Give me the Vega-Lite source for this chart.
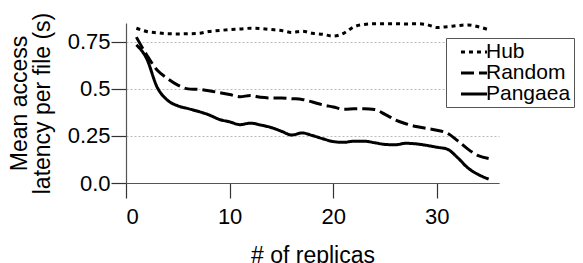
{
  "$schema": "https://vega.github.io/schema/vega-lite/v6.json",
  "autosize": "none",
  "width": 373,
  "height": 160,
  "padding": {"left": 126, "top": 23, "right": 84, "bottom": 80},
  "background": "white",
  "config": {
    "font": "Liberation Sans",
    "view": {"stroke": null},
    "axis": {"labelFont": "Liberation Sans", "titleFont": "Liberation Sans", "labelColor": "black", "titleColor": "black", "titleFontWeight": "normal", "domainColor": "#555", "tickColor": "#333", "tickWidth": 1.2, "domainWidth": 1.2}
  },
  "data": {"values": [
    {"r":1,"s":"Hub","v":0.822},{"r":2,"s":"Hub","v":0.805},{"r":3,"s":"Hub","v":0.798},{"r":4,"s":"Hub","v":0.793},{"r":5,"s":"Hub","v":0.792},
    {"r":6,"s":"Hub","v":0.793},{"r":7,"s":"Hub","v":0.795},{"r":8,"s":"Hub","v":0.805},{"r":9,"s":"Hub","v":0.81},{"r":10,"s":"Hub","v":0.815},
    {"r":11,"s":"Hub","v":0.818},{"r":12,"s":"Hub","v":0.822},{"r":13,"s":"Hub","v":0.82},{"r":14,"s":"Hub","v":0.815},{"r":15,"s":"Hub","v":0.81},
    {"r":16,"s":"Hub","v":0.8},{"r":17,"s":"Hub","v":0.806},{"r":18,"s":"Hub","v":0.795},{"r":19,"s":"Hub","v":0.79},{"r":20,"s":"Hub","v":0.78},
    {"r":21,"s":"Hub","v":0.795},{"r":22,"s":"Hub","v":0.83},{"r":23,"s":"Hub","v":0.842},{"r":24,"s":"Hub","v":0.846},{"r":25,"s":"Hub","v":0.846},
    {"r":26,"s":"Hub","v":0.846},{"r":27,"s":"Hub","v":0.845},{"r":28,"s":"Hub","v":0.846},{"r":29,"s":"Hub","v":0.842},{"r":30,"s":"Hub","v":0.826},
    {"r":31,"s":"Hub","v":0.83},{"r":32,"s":"Hub","v":0.836},{"r":33,"s":"Hub","v":0.84},{"r":34,"s":"Hub","v":0.83},{"r":35,"s":"Hub","v":0.814},
    {"r":1,"s":"Random","v":0.775},{"r":2,"s":"Random","v":0.68},{"r":3,"s":"Random","v":0.6},{"r":4,"s":"Random","v":0.555},{"r":5,"s":"Random","v":0.52},
    {"r":6,"s":"Random","v":0.5},{"r":7,"s":"Random","v":0.497},{"r":8,"s":"Random","v":0.49},{"r":9,"s":"Random","v":0.48},{"r":10,"s":"Random","v":0.47},
    {"r":11,"s":"Random","v":0.458},{"r":12,"s":"Random","v":0.465},{"r":13,"s":"Random","v":0.455},{"r":14,"s":"Random","v":0.452},{"r":15,"s":"Random","v":0.452},
    {"r":16,"s":"Random","v":0.448},{"r":17,"s":"Random","v":0.444},{"r":18,"s":"Random","v":0.43},{"r":19,"s":"Random","v":0.415},{"r":20,"s":"Random","v":0.404},
    {"r":21,"s":"Random","v":0.392},{"r":22,"s":"Random","v":0.394},{"r":23,"s":"Random","v":0.395},{"r":24,"s":"Random","v":0.39},{"r":25,"s":"Random","v":0.365},
    {"r":26,"s":"Random","v":0.335},{"r":27,"s":"Random","v":0.315},{"r":28,"s":"Random","v":0.3},{"r":29,"s":"Random","v":0.29},{"r":30,"s":"Random","v":0.28},
    {"r":31,"s":"Random","v":0.265},{"r":32,"s":"Random","v":0.225},{"r":33,"s":"Random","v":0.18},{"r":34,"s":"Random","v":0.145},{"r":35,"s":"Random","v":0.13},
    {"r":1,"s":"Pangaea","v":0.734},{"r":2,"s":"Pangaea","v":0.66},{"r":3,"s":"Pangaea","v":0.51},{"r":4,"s":"Pangaea","v":0.44},{"r":5,"s":"Pangaea","v":0.41},
    {"r":6,"s":"Pangaea","v":0.395},{"r":7,"s":"Pangaea","v":0.38},{"r":8,"s":"Pangaea","v":0.362},{"r":9,"s":"Pangaea","v":0.338},{"r":10,"s":"Pangaea","v":0.325},
    {"r":11,"s":"Pangaea","v":0.31},{"r":12,"s":"Pangaea","v":0.318},{"r":13,"s":"Pangaea","v":0.308},{"r":14,"s":"Pangaea","v":0.295},{"r":15,"s":"Pangaea","v":0.275},
    {"r":16,"s":"Pangaea","v":0.255},{"r":17,"s":"Pangaea","v":0.266},{"r":18,"s":"Pangaea","v":0.252},{"r":19,"s":"Pangaea","v":0.235},{"r":20,"s":"Pangaea","v":0.22},
    {"r":21,"s":"Pangaea","v":0.216},{"r":22,"s":"Pangaea","v":0.222},{"r":23,"s":"Pangaea","v":0.222},{"r":24,"s":"Pangaea","v":0.214},{"r":25,"s":"Pangaea","v":0.205},
    {"r":26,"s":"Pangaea","v":0.203},{"r":27,"s":"Pangaea","v":0.211},{"r":28,"s":"Pangaea","v":0.208},{"r":29,"s":"Pangaea","v":0.2},{"r":30,"s":"Pangaea","v":0.19},
    {"r":31,"s":"Pangaea","v":0.18},{"r":32,"s":"Pangaea","v":0.135},{"r":33,"s":"Pangaea","v":0.08},{"r":34,"s":"Pangaea","v":0.045},{"r":35,"s":"Pangaea","v":0.021}
  ]},
  "mark": {"type": "line", "color": "black", "strokeWidth": 3, "interpolate": "monotone", "clip": false},
  "encoding": {
    "x": {"field": "r", "type": "quantitative", "scale": {"domain": [0, 36], "nice": false, "zero": false},
      "axis": {"values": [0, 10, 20, 30], "grid": false, "tickSize": 15, "labelPadding": 8, "labelFontSize": 22, "title": "# of replicas", "titleFontSize": 23, "titleBaseline": "top", "titleY": 61, "titleX": 186.5}},
    "y": {"field": "v", "type": "quantitative", "scale": {"domain": [0, 0.85], "nice": false},
      "axis": {"values": [0, 0.25, 0.5, 0.75], "labelExpr": "datum.value == 0 ? '0.0' : datum.value == 0.5 ? '0.5' : format(datum.value, '.2f')", "tickSize": 15, "labelPadding": 1, "labelFontSize": 22, "grid": true, "gridColor": "#bbb", "gridDash": [2, 2], "gridWidth": 1,
        "title": ["Mean access", "latency per file (s)"], "titleFontSize": 23, "titleLineHeight": 23, "titleAngle": -90, "titleBaseline": "top", "titleAlign": "center", "titleX": -118, "titleY": 80}},
    "strokeDash": {"field": "s", "type": "nominal", "sort": ["Hub", "Random", "Pangaea"],
      "scale": {"domain": ["Hub", "Random", "Pangaea"], "range": [[4, 4], [13, 5], [1, 0]]},
      "legend": {"title": null, "orient": "none", "legendX": 320, "legendY": 15, "padding": 3, "strokeColor": "#555", "fillColor": "white",
        "symbolType": "M-1.37,0H1.37", "symbolSize": 361, "symbolStrokeWidth": 3, "symbolStrokeColor": "black", "symbolFillColor": "transparent", "symbolOffset": 14,
        "labelFontSize": 21, "labelFont": "Liberation Sans", "labelColor": "black", "labelOffset": 1, "rowPadding": 0, "labelLimit": 200}}
  }
}
